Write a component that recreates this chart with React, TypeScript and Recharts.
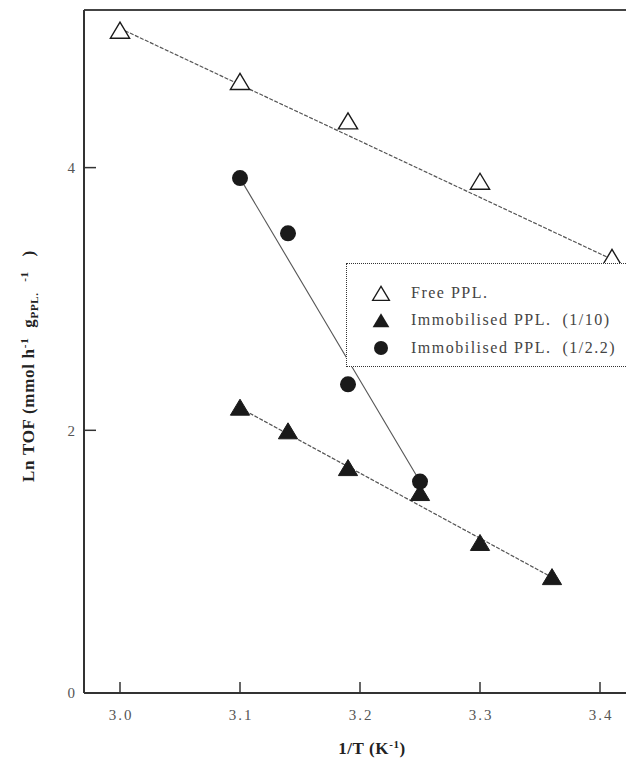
import React from 'react';
import { ComposedChart, Line, Scatter, XAxis, YAxis, ReferenceLine, Legend } from 'recharts';

const xTicks = [3.0, 3.1, 3.2, 3.3, 3.4];
const yTicks = [0, 2, 4];

// measured points
const freePPL = [
  { x: 3.0, y: 5.04 },
  { x: 3.1, y: 4.65 },
  { x: 3.19, y: 4.35 },
  { x: 3.3, y: 3.89 },
  { x: 3.41, y: 3.31 },
];
const immob10 = [
  { x: 3.1, y: 2.17 },
  { x: 3.14, y: 1.99 },
  { x: 3.19, y: 1.71 },
  { x: 3.25, y: 1.52 },
  { x: 3.3, y: 1.14 },
  { x: 3.36, y: 0.88 },
];
const immob22 = [
  { x: 3.1, y: 3.92 },
  { x: 3.14, y: 3.5 },
  { x: 3.19, y: 2.35 },
  { x: 3.25, y: 1.61 },
];

// fitted lines, end points as drawn
const freeFit = [{ x: 3.0, y: 5.06 }, { x: 3.45, y: 3.13 }];
const immob10Fit = [{ x: 3.1, y: 2.17 }, { x: 3.36, y: 0.88 }];
const immob22Fit = [{ x: 3.1, y: 3.92 }, { x: 3.25, y: 1.61 }];

const legendItems = [
  { label: 'Free PPL.', marker: 'openTri' },
  { label: 'Immobilised PPL.  (1/10)', marker: 'tri' },
  { label: 'Immobilised PPL.  (1/2.2)', marker: 'circle' },
];

const FONT = '"Liberation Serif", "Times New Roman", serif';
const INK = '#1a1a1a';

const triPoints = (cx: number, cy: number, h: number) =>
  `${cx},${cy - h * 0.55} ${cx - h * 0.6},${cy + h * 0.45} ${cx + h * 0.6},${cy + h * 0.45}`;

const OpenTriangle = (props: any) => {
  const { cx, cy } = props;
  return <polygon points={triPoints(cx, cy, 16)} fill="#fff" stroke={INK} strokeWidth={1.4} />;
};

const FilledTriangle = (props: any) => {
  const { cx, cy } = props;
  return <polygon points={triPoints(cx, cy, 16)} fill={INK} stroke={INK} strokeWidth={1} />;
};

const FilledCircle = (props: any) => {
  const { cx, cy } = props;
  return <circle cx={cx} cy={cy} r={8} fill={INK} />;
};

const XTick = (props: any) => {
  const { x, y, payload } = props;
  return (
    <g>
      <line x1={x} x2={x} y1={y} y2={y - 11} stroke="#333" strokeWidth={1.5} />
      <text x={x + 1} y={y + 27} textAnchor="middle" fontSize={15} letterSpacing={2} fill="#555" fontFamily={FONT}>
        {Number(payload.value).toFixed(1)}
      </text>
    </g>
  );
};

const YTick = (props: any) => {
  const { x, y, payload } = props;
  return (
    <g>
      {payload.value > 0 && <line x1={x} x2={x + 12} y1={y} y2={y} stroke="#333" strokeWidth={1.5} />}
      <text x={x - 9} y={y} dy="0.35em" textAnchor="end" fontSize={15} fill="#555" fontFamily={FONT}>
        {payload.value}
      </text>
    </g>
  );
};

const YTitle = () => {
  const cx = 26;
  const cy = 358;
  return (
    <text
      transform={`rotate(-90, ${cx}, ${cy})`}
      x={cx}
      y={cy}
      textAnchor="middle"
      fontSize={17}
      letterSpacing={0.7}
      fontWeight="bold"
      fill="#222"
      fontFamily={FONT}
      style={{ whiteSpace: 'pre' }}
    >
      Ln TOF (mmol h
      <tspan dy={-6} fontSize={11}>-1</tspan>
      <tspan dy={6}>  g</tspan>
      <tspan dy={4} fontSize={11}>PPL.</tspan>
      <tspan dy={-10} fontSize={11}>   -1</tspan>
      <tspan dy={6}>   )</tspan>
    </text>
  );
};

const XTitle = () => (
  <text x={364} y={746} textAnchor="middle" fontSize={17} letterSpacing={0.6} fontWeight="bold" fill="#222" fontFamily={FONT}>
    1/T (K<tspan dy={-6} fontSize={11}>-1</tspan>
    <tspan dy={6}>)</tspan>
  </text>
);

const LegendMarker = ({ type }: { type: string }) => (
  <svg width={20} height={18} style={{ display: 'block' }}>
    {type === 'openTri' && <polygon points={triPoints(10, 10, 14)} fill="#fff" stroke={INK} strokeWidth={1.3} />}
    {type === 'tri' && <polygon points={triPoints(10, 10, 14)} fill={INK} />}
    {type === 'circle' && <circle cx={10} cy={9} r={7} fill={INK} />}
  </svg>
);

const LegendBox = () => (
  <div
    style={{
      width: 400,
      height: 104,
      border: '1.5px dotted #333',
      background: '#fff',
      boxSizing: 'border-box',
      paddingTop: 15,
      paddingLeft: 24,
      fontFamily: FONT,
      fontSize: 16,
      letterSpacing: 1.5,
      color: '#444',
    }}
  >
    {legendItems.map((item) => (
      <div key={item.label} style={{ display: 'flex', alignItems: 'center', height: 27.5 }}>
        <LegendMarker type={item.marker} />
        <span style={{ marginLeft: 20, whiteSpace: 'pre' }}>{item.label}</span>
      </div>
    ))}
  </div>
);

export default function App() {
  return (
    <div style={{ position: 'absolute', left: 8, top: 8, width: 618, height: 753, overflow: 'hidden' }}>
      <ComposedChart width={652} height={753} margin={{ top: 2, right: 0, left: 0, bottom: 0 }}>
        <XAxis
          type="number"
          dataKey="x"
          domain={[2.97, 3.45]}
          ticks={xTicks}
          allowDataOverflow
          height={68}
          tickSize={0}
          tickMargin={0}
          tickLine={false}
          tick={<XTick />}
          axisLine={{ stroke: '#333', strokeWidth: 2 }}
          label={{ content: () => <XTitle /> }}
        />
        <YAxis
          type="number"
          dataKey="y"
          domain={[0, 5.2]}
          ticks={yTicks}
          allowDataOverflow
          width={76}
          tickSize={0}
          tickMargin={0}
          tickLine={false}
          tick={<YTick />}
          axisLine={{ stroke: '#333', strokeWidth: 2 }}
          label={{ content: () => <YTitle /> }}
        />
        <ReferenceLine y={5.2} stroke="#444" strokeWidth={2} />
        <ReferenceLine x={3.45} stroke="#444" strokeWidth={2} />
        <Line data={freeFit} dataKey="y" type="linear" stroke="#555" strokeWidth={1.2} strokeDasharray="4 1.5" dot={false} legendType="none" isAnimationActive={false} />
        <Line data={immob10Fit} dataKey="y" type="linear" stroke="#555" strokeWidth={1.2} strokeDasharray="4 1.5" dot={false} legendType="none" isAnimationActive={false} />
        <Line data={immob22Fit} dataKey="y" type="linear" stroke="#555" strokeWidth={1.1} dot={false} legendType="none" isAnimationActive={false} />
        <Scatter data={freePPL} dataKey="y" shape={<OpenTriangle />} isAnimationActive={false} />
        <Scatter data={immob10} dataKey="y" shape={<FilledTriangle />} isAnimationActive={false} />
        <Scatter data={immob22} dataKey="y" shape={<FilledCircle />} isAnimationActive={false} />
        <Legend
          layout="vertical"
          align="center"
          verticalAlign="middle"
          content={() => <LegendBox />}
          wrapperStyle={{ left: 338, top: 255, width: 400 }}
        />
      </ComposedChart>
    </div>
  );
}
